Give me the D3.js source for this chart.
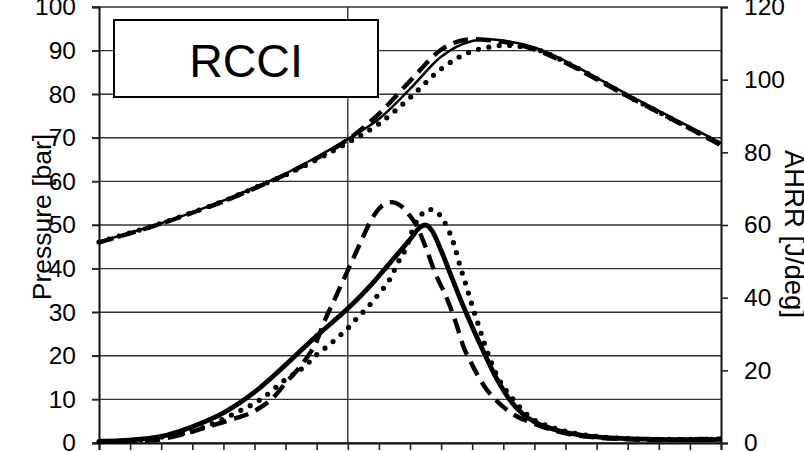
<!DOCTYPE html>
<html>
<head>
<meta charset="utf-8">
<script src="https://cdn.jsdelivr.net/npm/d3@7"></script>
<style>
  html, body { margin: 0; padding: 0; background: #fff; }
  svg { display: block; font-family: "Liberation Sans", Arial, sans-serif; }
</style>
</head>
<body>
<svg id="chart" width="804" height="452"></svg>
<script>
// Crank angle [deg] grid for the pressure traces
const pressureAngles = [-40, -35, -30, -25, -20, -15, -10, -5, 0, 5, 10, 15, 20, 22, 25, 30, 35, 40, 45, 50, 55, 60];
// Cylinder pressure [bar]
const pressureSolid  = [46.2, 48.2, 50.4, 52.9, 55.6, 58.6, 61.8, 65.6, 69.7, 74.3, 81.2, 88.6, 92.2, 92.6, 92.3, 90.7, 87.6, 83.8, 79.9, 76.2, 72.5, 68.8];
const pressureDashed = [46.0, 48.1, 50.3, 52.8, 55.4, 58.4, 61.6, 65.3, 69.6, 75.5, 83.0, 90.2, 92.6, 92.5, 92.0, 90.3, 87.2, 83.4, 79.5, 75.8, 72.1, 68.3];
const pressureDotted = [46.1, 48.2, 50.4, 52.9, 55.5, 58.5, 61.5, 65.0, 68.9, 73.2, 79.2, 85.8, 89.9, 90.6, 91.2, 90.4, 87.4, 83.6, 79.6, 75.9, 72.2, 68.5];

// Apparent heat release rate [J/deg]
const ahrrSolidAngles = [-40, -35, -30, -25, -20, -15, -10, -5, 0, 4, 6, 8, 10, 11.5, 12.5, 13.5, 15, 16.5, 18, 20, 22, 24, 26, 28, 30, 33, 36, 40, 45, 50, 55, 60];
const ahrrSolid       = [0.5, 0.8, 1.8, 4.5, 8.3, 14, 21.5, 29.5, 37, 44, 48, 52, 56, 59.2, 60, 58.5, 53, 46.5, 40, 32, 24.5, 17.5, 12, 8.2, 5.8, 3.8, 2.6, 1.7, 1.2, 1.0, 0.9, 1.0];

const ahrrDashedAngles = [-40, -35, -31, -27, -23, -19, -15, -12, -10, -7, -5, -4, -2, 0, 2, 3.5, 5, 7, 8.5, 10, 11, 12.5, 14, 16, 17.5, 18.5, 20, 22, 24, 27, 30, 33, 36, 40, 45, 50, 55, 60];
const ahrrDashed       = [0.4, 0.5, 0.8, 2.2, 4.2, 6.3, 8.8, 12.5, 16.5, 22.5, 28, 32.5, 40, 47.5, 55, 60.5, 64.5, 66.3, 65.3, 62.5, 60, 54, 47, 39.5, 32.5, 27, 21.5, 15.5, 11.5, 7.5, 5.3, 3.5, 2.3, 1.5, 1.0, 0.8, 1.0, 1.2];

const ahrrDottedAngles = [-40, -35, -30, -25, -21.5, -18, -14, -10, -7, -5, -3, -1, 0, 1.5, 3, 4.5, 6, 7, 8, 9.2, 10.5, 12, 13, 14, 15.3, 16.4, 17.2, 18, 19, 20, 21, 22, 23, 24, 25.4, 27, 28.5, 30, 32, 35, 40, 45, 50, 55, 60];
const ahrrDotted       = [0.4, 0.7, 1.6, 3.2, 5.5, 8.3, 12, 17.5, 21, 24.3, 27, 30, 31.6, 34.4, 37, 40, 43.2, 45.8, 49.5, 53, 59, 63.2, 64.3, 64, 61.5, 57.8, 54, 49, 43.5, 37.8, 32.5, 27.2, 22.5, 18.5, 14.6, 11.2, 8.3, 6.3, 4.8, 3.2, 1.8, 1.2, 1.0, 1.0, 1.0];

// Axis ticks
const angleTicks = d3.range(-40, 61, 5);
const pressureTicks = [0, 10, 20, 30, 40, 50, 60, 70, 80, 90, 100];
const ahrrTicks = [0, 20, 40, 60, 80, 100, 120];

const svg = d3.select("#chart");
const plotL = 99, plotR = 721, plotT = 7, plotB = 443;

const x = d3.scaleLinear().domain([-40, 60]).range([plotL, plotR]);
const yP = d3.scaleLinear().domain([0, 100]).range([plotB, plotT]);
const yA = d3.scaleLinear().domain([0, 120]).range([plotB, plotT]);

// horizontal gridlines (pressure) and the TDC vertical line
const grid = svg.append("g");
grid.selectAll("line.h").data(pressureTicks).join("line")
  .attr("x1", plotL - 7).attr("x2", plotR)
  .attr("y1", d => yP(d)).attr("y2", d => yP(d))
  .attr("stroke", "#333").attr("stroke-width", 1.4);
grid.append("line")
  .attr("x1", x(0)).attr("x2", x(0)).attr("y1", plotT).attr("y2", plotB)
  .attr("stroke", "#333").attr("stroke-width", 1.4);

// left pressure axis
const axL = svg.append("g").attr("transform", `translate(${plotL},0)`)
  .call(d3.axisLeft(yP).tickValues(pressureTicks).tickSize(7).tickPadding(16));
// right AHRR axis
const axR = svg.append("g").attr("transform", `translate(${plotR},0)`)
  .call(d3.axisRight(yA).tickValues(ahrrTicks).tickSize(7).tickPadding(16));
// bottom crank-angle axis (labels fall below the visible area)
const axB = svg.append("g").attr("transform", `translate(0,${plotB})`)
  .call(d3.axisBottom(x).tickValues(angleTicks).tickSize(7).tickFormat(""));

[axL, axR, axB].forEach(g => {
  g.select(".domain").attr("stroke", "#111").attr("stroke-width", 2);
  g.selectAll(".tick line").attr("stroke", "#222").attr("stroke-width", 1.6);
  g.selectAll(".tick text").attr("font-size", 24.5).attr("fill", "#000")
    .attr("font-family", '"Liberation Sans", Arial, sans-serif');
});

// axis titles
svg.append("text")
  .attr("transform", `translate(51,217) rotate(-90)`)
  .attr("text-anchor", "middle").attr("font-size", 26.5).attr("fill", "#000")
  .text("Pressure [bar]");
svg.append("text")
  .attr("transform", `translate(785,234) rotate(90)`)
  .attr("text-anchor", "middle").attr("font-size", 27.5).attr("fill", "#000")
  .text("AHRR [J/deg]");

// traces
const curves = svg.append("g");
function trace(angles, values, yScale, style) {
  const line = d3.line()
    .x((d, i) => x(angles[i]))
    .y(d => yScale(d))
    .curve(d3.curveMonotoneX);
  curves.append("path").datum(values)
    .attr("d", line)
    .attr("fill", "none")
    .attr("stroke", "#000")
    .attr("stroke-width", style.w)
    .attr("stroke-dasharray", style.dash || null)
    .attr("stroke-linecap", style.cap || "butt")
    .attr("stroke-linejoin", "round");
}
const solidThin = { w: 2.5 };
const solidThick = { w: 4.8 };
const dashed = { w: 4.4, dash: "15,8" };
const dotted = { w: 5.2, dash: "0,10.5", cap: "round" };

trace(pressureAngles, pressureDotted, yP, dotted);
trace(pressureAngles, pressureDashed, yP, dashed);
trace(pressureAngles, pressureSolid, yP, solidThin);

trace(ahrrDottedAngles, ahrrDotted, yA, dotted);
trace(ahrrDashedAngles, ahrrDashed, yA, dashed);
trace(ahrrSolidAngles, ahrrSolid, yA, solidThick);

// label box
svg.append("rect")
  .attr("x", 114).attr("y", 20).attr("width", 264).attr("height", 77)
  .attr("fill", "#fff").attr("stroke", "#000").attr("stroke-width", 2);
svg.append("text")
  .attr("x", 246).attr("y", 76.5)
  .attr("text-anchor", "middle").attr("font-size", 46.5).attr("fill", "#000")
  .text("RCCI");
</script>
</body>
</html>
